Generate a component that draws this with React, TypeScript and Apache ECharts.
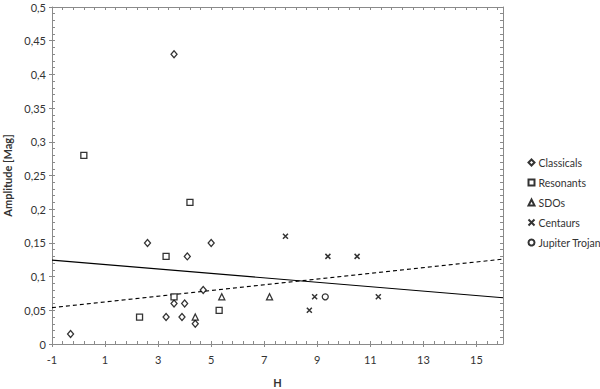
import React, { useEffect, useRef } from "react";
import * as echarts from "echarts";

// ---- Data ----
const classicalsH = [-0.3, 2.6, 3.3, 3.6, 3.6, 3.9, 4.0, 4.1, 4.4, 4.7, 5.0];
const classicalsAmp = [0.015, 0.15, 0.04, 0.43, 0.06, 0.04, 0.06, 0.13, 0.03, 0.08, 0.15];

const resonantsH = [0.2, 2.3, 3.3, 3.6, 4.2, 5.3];
const resonantsAmp = [0.28, 0.04, 0.13, 0.07, 0.21, 0.05];

const sdosH = [4.4, 5.4, 7.2];
const sdosAmp = [0.04, 0.07, 0.07];

const centaursH = [7.8, 8.7, 8.9, 9.4, 10.5, 11.3];
const centaursAmp = [0.16, 0.05, 0.07, 0.13, 0.13, 0.07];

const trojanH = [9.3];
const trojanAmp = [0.07];

const trendSolidH = [-1, 16];
const trendSolidAmp = [0.1245, 0.0687];
const trendDashedH = [-1, 16];
const trendDashedAmp = [0.054, 0.126];

const xTickLabels = [-1, 1, 3, 5, 7, 9, 11, 13, 15];
const yTickLabels = [0, 0.05, 0.1, 0.15, 0.2, 0.25, 0.3, 0.35, 0.4, 0.45, 0.5];

const seriesNames = ["Classicals", "Resonants", "SDOs", "Centaurs", "Jupiter Trojan"];

const zip = (xs: number[], ys: number[]) => xs.map((x, i) => [x, ys[i]]);

const App: React.FC = () => {
  const ref = useRef<HTMLDivElement>(null);

  useEffect(() => {
    if (!ref.current) return;
    const chart = echarts.init(ref.current, undefined, { renderer: "svg" });

    const font = "Lato, 'Open Sans', sans-serif";
    const axisGray = "#8a8a8a";
    const textColor = "#333";

    const xMinor = Array.from({ length: 43 }, (_, i) => -1 + i * 0.4);
    const yMinor = Array.from({ length: 51 }, (_, i) => i * 0.01);

    const xBase = { type: "value", min: -1, max: 16, splitLine: { show: false } };
    const yBase = { type: "value", min: 0, max: 0.5, splitLine: { show: false } };

    const hollow = (sym: string, size: number | number[]) => ({
      symbol: sym,
      symbolSize: size,
      itemStyle: { color: "#fff", borderColor: "#000", borderWidth: 1.3 },
    });

    const option: any = {
      animation: false,
      textStyle: { fontFamily: font },
      grid: { left: 52, right: 97, top: 7, bottom: 45, containLabel: false, outerBoundsMode: "none" },
      legend: {
        orient: "vertical",
        left: 521,
        top: 151,
        itemWidth: 6,
        itemHeight: 6,
        itemGap: 7,
        data: seriesNames,
        textStyle: { fontSize: 10.5, color: textColor, fontFamily: font, lineHeight: 13, padding: [0, 0, 0, -1] },
      },
      xAxis: [
        {
          ...xBase,
          position: "bottom",
          name: "H",
          nameLocation: "middle",
          nameGap: 33,
          nameTextStyle: { fontWeight: "bold", fontSize: 11, color: textColor, fontFamily: font },
          axisLine: { show: true, onZero: false, lineStyle: { color: axisGray } },
          axisTick: { show: true, inside: false, length: 3, customValues: xTickLabels, lineStyle: { color: axisGray } },
          axisLabel: {
            show: true,
            customValues: xTickLabels,
            margin: 10,
            fontSize: 11,
            color: textColor,
            fontFamily: font,
            formatter: (v: number) => String(v),
          },
        },
        {
          ...xBase,
          position: "bottom",
          axisLine: { show: false, onZero: false },
          axisTick: { show: true, inside: true, length: 3, customValues: xMinor, lineStyle: { color: axisGray } },
          axisLabel: { show: false },
        },
        {
          ...xBase,
          position: "top",
          axisLine: { show: true, onZero: false, lineStyle: { color: axisGray } },
          axisTick: { show: true, inside: true, length: 3, customValues: xMinor, lineStyle: { color: axisGray } },
          axisLabel: { show: false },
        },
      ],
      yAxis: [
        {
          ...yBase,
          position: "left",
          interval: 0.05,
          name: "Amplitude [Mag]",
          nameLocation: "middle",
          nameGap: 39,
          nameTextStyle: { fontWeight: "bold", fontSize: 11, color: textColor, fontFamily: font },
          axisLine: { show: true, onZero: false, lineStyle: { color: axisGray } },
          axisTick: { show: true, inside: false, length: 3, customValues: yTickLabels, lineStyle: { color: axisGray } },
          axisLabel: {
            show: true,
            customValues: yTickLabels,
            margin: 6,
            fontSize: 11,
            color: textColor,
            fontFamily: font,
            formatter: (v: number) => String(Number(v.toFixed(2))).replace(".", ","),
          },
        },
        {
          ...yBase,
          position: "left",
          axisLine: { show: false, onZero: false },
          axisTick: { show: true, inside: true, length: 3, customValues: yMinor, lineStyle: { color: axisGray } },
          axisLabel: { show: false },
        },
        {
          ...yBase,
          position: "right",
          axisLine: { show: true, onZero: false, lineStyle: { color: axisGray } },
          axisTick: { show: true, inside: true, length: 3, customValues: yMinor, lineStyle: { color: axisGray } },
          axisLabel: { show: false },
        },
      ],
      series: [
        {
          name: "Classicals",
          type: "scatter",
          ...hollow("diamond", [6, 7]),
          data: zip(classicalsH, classicalsAmp),
        },
        {
          name: "Resonants",
          type: "scatter",
          ...hollow("rect", 6),
          data: zip(resonantsH, resonantsAmp),
        },
        {
          name: "SDOs",
          type: "scatter",
          ...hollow("triangle", 6),
          data: zip(sdosH, sdosAmp),
        },
        {
          name: "Centaurs",
          type: "scatter",
          symbol: "path://M0 0L10 10M10 0L0 10",
          symbolSize: 5,
          itemStyle: { color: "none", borderColor: "#000", borderWidth: 1.5 },
          data: zip(centaursH, centaursAmp),
        },
        {
          name: "Jupiter Trojan",
          type: "scatter",
          ...hollow("circle", 6),
          data: zip(trojanH, trojanAmp),
        },
        {
          name: "trendSolid",
          type: "line",
          symbol: "none",
          silent: true,
          lineStyle: { color: "#000", width: 1.1, type: "solid" },
          data: zip(trendSolidH, trendSolidAmp),
          z: 1,
        },
        {
          name: "trendDashed",
          type: "line",
          symbol: "none",
          silent: true,
          lineStyle: { color: "#000", width: 1.1, type: [4, 3] },
          data: zip(trendDashedH, trendDashedAmp),
          z: 1,
        },
      ],
    };

    chart.setOption(option);
    return () => chart.dispose();
  }, []);

  return <div ref={ref} style={{ width: 600, height: 389, position: "absolute", left: 0, top: 0, background: "#fff" }} />;
};

export default App;
